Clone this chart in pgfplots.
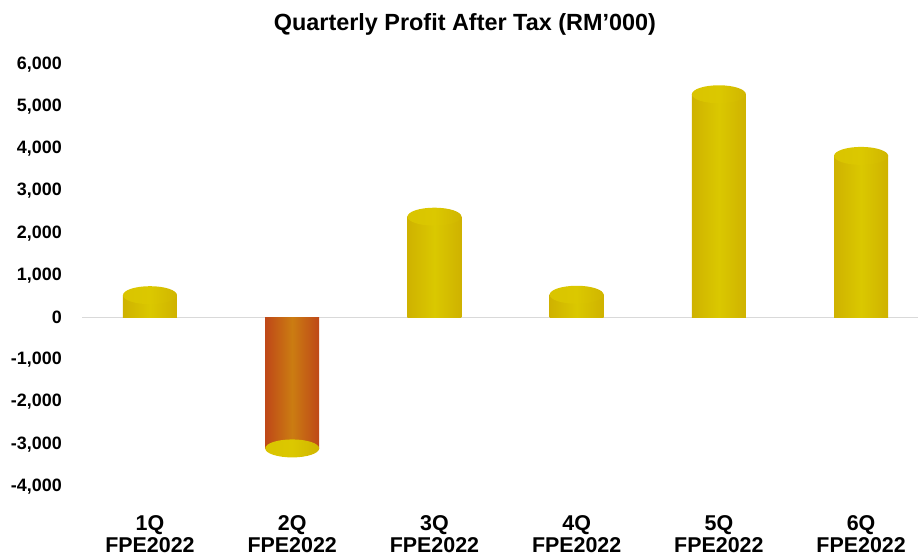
\documentclass[border=0pt]{standalone}
\usepackage{pgfplots}
\usepackage{pgfplotstable}
\pgfplotsset{compat=1.18}
\usepackage{fontspec}
\setmainfont{Liberation Sans}
\definecolor{gL}{HTML}{C49C00}
\definecolor{gM}{HTML}{DAC800}
\definecolor{gR}{HTML}{C49C00}
\definecolor{rL}{HTML}{B3141E}
\definecolor{rM}{HTML}{CB7C12}
\definecolor{rR}{HTML}{B1141E}
\definecolor{tL}{HTML}{D8C000}
\definecolor{tM}{HTML}{DBC800}
\definecolor{tR}{HTML}{C6A300}
\pgfdeclarehorizontalshading{cyltopshade}{100bp}{color(0bp)=(tL); color(50bp)=(tM); color(100bp)=(tR)}
\pgfdeclarehorizontalshading{goldbody}{100bp}{color(0bp)=(gL); color(50bp)=(gM); color(100bp)=(gR)}
\pgfdeclarehorizontalshading{redbody}{100bp}{color(0bp)=(rL); color(50bp)=(rM); color(100bp)=(rR)}
\pgfdeclareplotmark{cyltop}{%
  \pgfpathellipse{\pgfpointorigin}{\pgfqpoint{27bp}{0pt}}{\pgfqpoint{0pt}{9bp}}%
  \pgfshadepath{cyltopshade}{0}%
  \pgfusepath{discard}}
% body: rectangle from the data point back to the zero line
\pgfdeclareplotmark{cylbody}{%
  \pgfpathrectanglecorners{\pgfpoint{-27bp}{0pt}}{\pgfpoint{27bp}{\barh bp}}%
  \pgfshadepath{\bodyshade}{0}%
  \pgfusepath{discard}}

\pgfplotstableread{
x y
0 530
2 2390
3 540
4 5290
5 3830
}\goldbars
\pgfplotstableread{
x y
1 -3100
}\redbars
\pgfplotstableread{
x y
0 530
1 -3100
2 2390
3 540
4 5290
5 3830
}\tops

\begin{document}
\begin{tikzpicture}
\useasboundingbox (0,0) rectangle (918bp,556bp);
\begin{axis}[
  at={(82bp,69.6bp)}, anchor=south west,
  scale only axis, width=836bp, height=422.1bp,
  xmin=-0.478, xmax=5.40, ymin=-4000, ymax=6000,
  ytick={-4000,-3000,...,6000},
  xtick={0,...,5},
  xticklabels={{1Q\\FPE2022},{2Q\\FPE2022},{3Q\\FPE2022},{4Q\\FPE2022},{5Q\\FPE2022},{6Q\\FPE2022}},
  xticklabel style={align=center, font=\bfseries\fontsize{21.5}{22}\selectfont, anchor=north, inner sep=0pt, yshift=-29bp},
  yticklabel style={font=\bfseries\fontsize{18}{20}\selectfont, anchor=east, inner sep=0pt, xshift=-20bp},
  /pgf/number format/assume math mode=true,
  /pgf/number format/1000 sep={,},
  axis line style={draw=none}, major tick length=0pt,
  extra y ticks={0}, extra y tick labels={},
  extra y tick style={grid=major, major grid style={draw=black!15, line width=1.6bp}},
  title={Quarterly Profit After Tax (RM’000)},
  title style={at={(0.458,1)}, anchor=center, yshift=34bp, font=\bfseries\fontsize{23.5}{26}\selectfont},
  clip=false,
]
\def\bodyshade{goldbody}
\addplot[only marks, mark=cylbody,
  visualization depends on={\thisrow{y}*(-0.04221) \as \barh}] table[x=x,y=y] {\goldbars};
\addplot[only marks, mark=cylbody,
  visualization depends on={\thisrow{y}*(-0.04221) \as \barh},
  /utils/exec={\def\bodyshade{redbody}}] table[x=x,y=y] {\redbars};
\addplot[only marks, mark=cyltop] table[x=x,y=y] {\tops};
\end{axis}
\end{tikzpicture}
\end{document}
